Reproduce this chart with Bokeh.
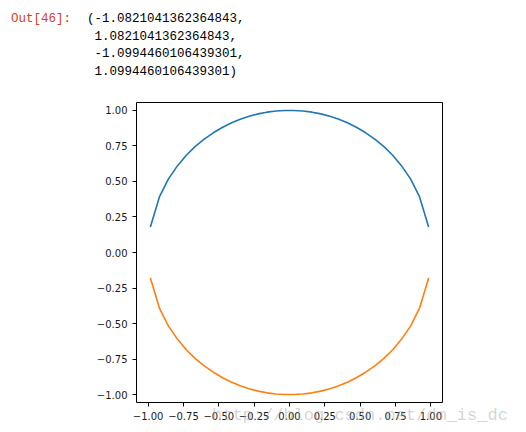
from bokeh.plotting import figure
from bokeh.models import Range1d, FixedTicker, CustomJSTickFormatter, Div
from bokeh.layouts import column
from bokeh.embed import file_html
from bokeh.resources import INLINE

# ---- data ----
x_vals = [-0.984, -0.920, -0.857, -0.793, -0.730, -0.666, -0.603, -0.539,
          -0.476, -0.413, -0.349, -0.286, -0.222, -0.159, -0.095, -0.032,
          0.032, 0.095, 0.159, 0.222, 0.286, 0.349, 0.413, 0.476,
          0.539, 0.603, 0.666, 0.730, 0.793, 0.857, 0.920, 0.984]
y_upper = [0.180, 0.391, 0.516, 0.609, 0.684, 0.746, 0.798, 0.842,
           0.879, 0.911, 0.937, 0.958, 0.975, 0.987, 0.995, 0.999,
           0.999, 0.995, 0.987, 0.975, 0.958, 0.937, 0.911, 0.879,
           0.842, 0.798, 0.746, 0.684, 0.609, 0.516, 0.391, 0.180]
y_lower = [-0.180, -0.391, -0.516, -0.609, -0.684, -0.746, -0.798, -0.842,
           -0.879, -0.911, -0.937, -0.958, -0.975, -0.987, -0.995, -0.999,
           -0.999, -0.995, -0.987, -0.975, -0.958, -0.937, -0.911, -0.879,
           -0.842, -0.798, -0.746, -0.684, -0.609, -0.516, -0.391, -0.180]
x_ticks = [-1.0, -0.75, -0.5, -0.25, 0.0, 0.25, 0.5, 0.75, 1.0]
y_ticks = [-1.0, -0.75, -0.5, -0.25, 0.0, 0.25, 0.5, 0.75, 1.0]
out_prompt = "Out[46]:"
out_lines = ["(-1.0821041362364843,", "1.0821041362364843,",
             "-1.0994460106439301,", "1.0994460106439301)"]
watermark = "http://blog.csdn.net/dm_is_dc"

# ---- top text (Jupyter output) as a Div ----
DIV_H = 84
line_tops = [7.0, 24.5, 42.0, 59.5]
spans = ['<span style="position:absolute;left:6px;top:%.1fpx;color:#D84315;">%s</span>'
         % (line_tops[0], out_prompt)]
for i, t in enumerate(out_lines):
    left = 82 if i == 0 else 89.5
    spans.append('<span style="position:absolute;left:%.1fpx;top:%.1fpx;color:#000;">%s</span>'
                 % (left, line_tops[i], t))
spans.append('<span style="position:absolute;left:207px;top:401px;color:rgba(160,160,160,0.45);'
             'font-size:17px;line-height:19px;">%s</span>' % watermark)
html = ('<div style="position:relative;width:518px;height:%dpx;' % DIV_H +
        "font-family:'Liberation Mono',monospace;font-size:12.5px;line-height:15px;"
        'white-space:pre;">' + "".join(spans) + '</div>')
top = Div(text=html, width=518, height=DIV_H,
          styles={"overflow": "visible", "z-index": "5", "pointer-events": "none"})

p = figure(width=518, height=335,
           x_range=Range1d(-1.0821, 1.0821), y_range=Range1d(-1.055, 1.055),
           output_backend="svg", toolbar_location=None,
           min_border_left=136, min_border_right=76,
           min_border_top=8, min_border_bottom=27)

p.line(x_vals, y_upper, line_color="#1f77b4", line_width=1.6)
p.line(x_vals, y_lower, line_color="#ff7f0e", line_width=1.6)

p.grid.visible = False
p.outline_line_color = "black"
p.outline_line_width = 1
p.background_fill_color = "white"
p.border_fill_color = "white"

fmt = CustomJSTickFormatter(code="""
if (Math.abs(tick) < 1e-9) { return '0.00'; }
return tick.toFixed(2).replace('-', '\u2212');
""")
p.xaxis.ticker = FixedTicker(ticks=x_ticks)
p.yaxis.ticker = FixedTicker(ticks=y_ticks)
for ax in (p.xaxis[0], p.yaxis[0]):
    ax.formatter = fmt
    ax.axis_line_color = None
    ax.major_tick_in = 0
    ax.major_tick_out = 4
    ax.major_tick_line_color = "black"
    ax.minor_tick_line_color = None
    ax.major_label_text_font = "DejaVu Sans"
    ax.major_label_text_font_size = "10px"
    ax.major_label_text_color = "#1a1a1a"
    ax.major_label_standoff = 5

layout = column(top, p, spacing=0)
open("out.html", "w").write(file_html(layout, INLINE))
